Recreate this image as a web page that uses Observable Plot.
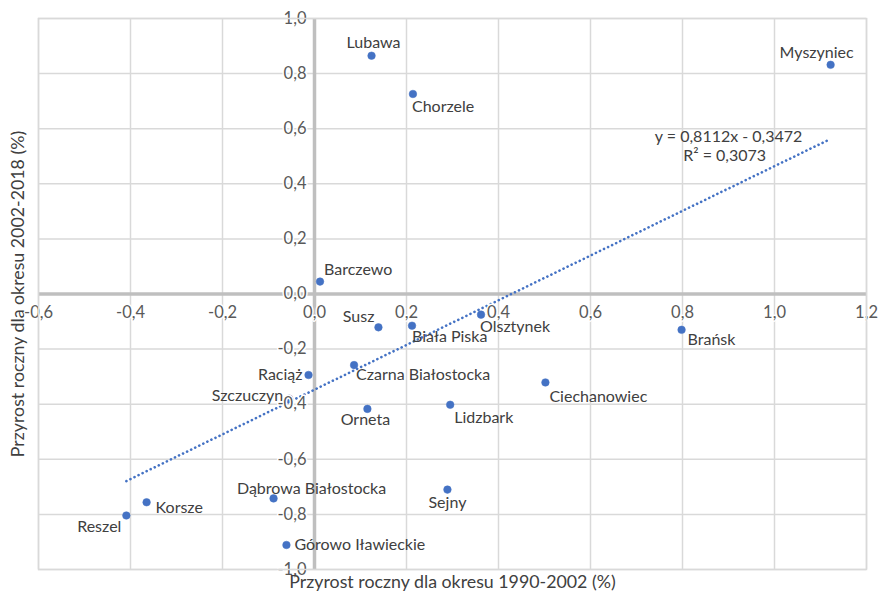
<!DOCTYPE html>
<html>
<head>
<meta charset="utf-8">
<script src="https://cdn.jsdelivr.net/npm/d3@7"></script>
<script src="https://cdn.jsdelivr.net/npm/@observablehq/plot@0.6"></script>
<style>
  html, body { margin: 0; padding: 0; background: #fff; }
  svg { display: block; }
</style>
</head>
<body>
<div id="chart"></div>
<script>
// ---- data ----
const towns = ["Lubawa", "Chorzele", "Myszyniec", "Barczewo", "Susz", "Biała Piska", "Olsztynek", "Brańsk",
  "Czarna Białostocka", "Raciąż", "Szczuczyn", "Orneta", "Lidzbark", "Ciechanowiec", "Sejny",
  "Dąbrowa Białostocka", "Korsze", "Reszel", "Górowo Iławieckie"];
const growth1990_2002 = [0.124, 0.214, 1.122, 0.012, 0.139, 0.212, 0.362, 0.798,
  0.086, -0.013, -0.055, 0.115, 0.295, 0.502, 0.289,
  -0.089, -0.365, -0.409, -0.061];
const growth2002_2018 = [0.865, 0.726, 0.832, 0.045, -0.121, -0.115, -0.075, -0.130,
  -0.258, -0.294, -0.380, -0.417, -0.402, -0.321, -0.710,
  -0.742, -0.756, -0.804, -0.911];
const trendCoefficients = [0.8112, -0.3472]; // slope, intercept
const rSquared = [0.3073];
const xTicks = [-0.6, -0.4, -0.2, 0.0, 0.2, 0.4, 0.6, 0.8, 1.0, 1.2];
const yTicks = [-1.0, -0.8, -0.6, -0.4, -0.2, 0.0, 0.2, 0.4, 0.6, 0.8, 1.0];
const xTitle = "Przyrost roczny dla okresu 1990-2002 (%)";
const yTitle = "Przyrost roczny dla okresu 2002-2018 (%)";

// ---- label placement (style): dx, dy, anchor ----
const labelPlacement = {
  "Lubawa": [2, -13, "middle"],
  "Chorzele": [-1, 13, "start"],
  "Myszyniec": [-14, -12, "middle"],
  "Barczewo": [4, -12, "start"],
  "Susz": [-4, -10, "end"],
  "Biała Piska": [0, 11, "start"],
  "Olsztynek": [-1, 12, "start"],
  "Brańsk": [6, 10, "start"],
  "Czarna Białostocka": [2, 10, "start"],
  "Raciąż": [-6, 0, "end"],
  "Szczuczyn": [-6, -3, "end"],
  "Orneta": [-2, 11, "middle"],
  "Lidzbark": [4, 13, "start"],
  "Ciechanowiec": [4, 14, "start"],
  "Sejny": [0, 13, "middle"],
  "Dąbrowa Białostocka": [38, -10, "middle"],
  "Korsze": [9, 6, "start"],
  "Reszel": [-5, 11, "end"],
  "Górowo Iławieckie": [8, 0, "start"]
};

const points = towns.map((name, i) => ({name, x: growth1990_2002[i], y: growth2002_2018[i]}));
const [slope, intercept] = trendCoefficients;
const xMin = d3.min(growth1990_2002), xMax = d3.max(growth1990_2002);
const trend = [xMin, xMax].map(x => ({x, y: slope * x + intercept}));
const fmt = v => v.toFixed(1).replace(".", ",");
const fmt4 = v => Math.abs(v).toFixed(4).replace(".", ",");
const eqText = `y = ${fmt4(slope)}x ${intercept < 0 ? "-" : "+"} ${fmt4(intercept)}`;
const r2Text = `R² = ${fmt4(rSquared[0])}`;

const FONT = "Lato, 'Open Sans', sans-serif";
const blue = "#4472c4";
const grid = "#d9d9d9";
const LBL = 16;

const perLabel = points.map(p => {
  const [dx, dy, anchor] = labelPlacement[p.name];
  return Plot.text([p], {x: "x", y: "y", text: "name", dx, dy, textAnchor: anchor, fill: "#404040", fontSize: LBL});
});

const chart = Plot.plot({
  width: 880,
  height: 598,
  marginLeft: 38,
  marginRight: 14,
  marginTop: 18,
  marginBottom: 29,
  style: {fontFamily: FONT, background: "#fff"},
  x: {domain: [-0.6, 1.2], axis: null},
  y: {domain: [-1, 1], axis: null},
  marks: [
    Plot.ruleX(xTicks, {stroke: grid, strokeWidth: 1.5}),
    Plot.ruleY(yTicks, {stroke: grid, strokeWidth: 1.5}),
    Plot.ruleX([0], {stroke: "#bfbfbf", strokeWidth: 3.5}),
    Plot.ruleY([0], {stroke: "#bfbfbf", strokeWidth: 3.5}),
    Plot.line(trend, {x: "x", y: "y", stroke: blue, strokeWidth: 2.6, strokeDasharray: "0.1 4.4", strokeLinecap: "round"}),
    Plot.dot(points, {x: "x", y: "y", r: 3.8, fill: blue, stroke: blue, strokeOpacity: 0.5, strokeWidth: 1}),
    ...perLabel,
    Plot.text(xTicks, {x: d => d, y: 0, dy: 19, text: fmt, fill: "#595959", fontSize: 16.5,
      stroke: "#fff", strokeWidth: 3, paintOrder: "stroke"}),
    Plot.text(yTicks, {x: 0, y: d => d, dx: -8, text: fmt, textAnchor: "end", fill: "#595959", fontSize: 16.5,
      stroke: "#fff", strokeWidth: 3, paintOrder: "stroke"}),
    Plot.text([eqText], {x: xMax, y: slope * xMax + intercept, text: d => d, dx: -102, dy: -2, fill: "#404040", fontSize: LBL}),
    Plot.text([r2Text], {x: xMax, y: slope * xMax + intercept, text: d => d, dx: -106, dy: 17, fill: "#404040", fontSize: LBL}),
    Plot.text([xTitle], {frameAnchor: "bottom", text: d => d, dy: 18, fill: "#404040", fontSize: 17.8}),
    Plot.text([yTitle], {frameAnchor: "left", text: d => d, rotate: -90, textAnchor: "middle", dx: -20, fill: "#404040", fontSize: 17.8}),
    Plot.frame({stroke: grid, strokeWidth: 1.5})
  ]
});
document.getElementById("chart").appendChild(chart);
</script>
</body>
</html>
